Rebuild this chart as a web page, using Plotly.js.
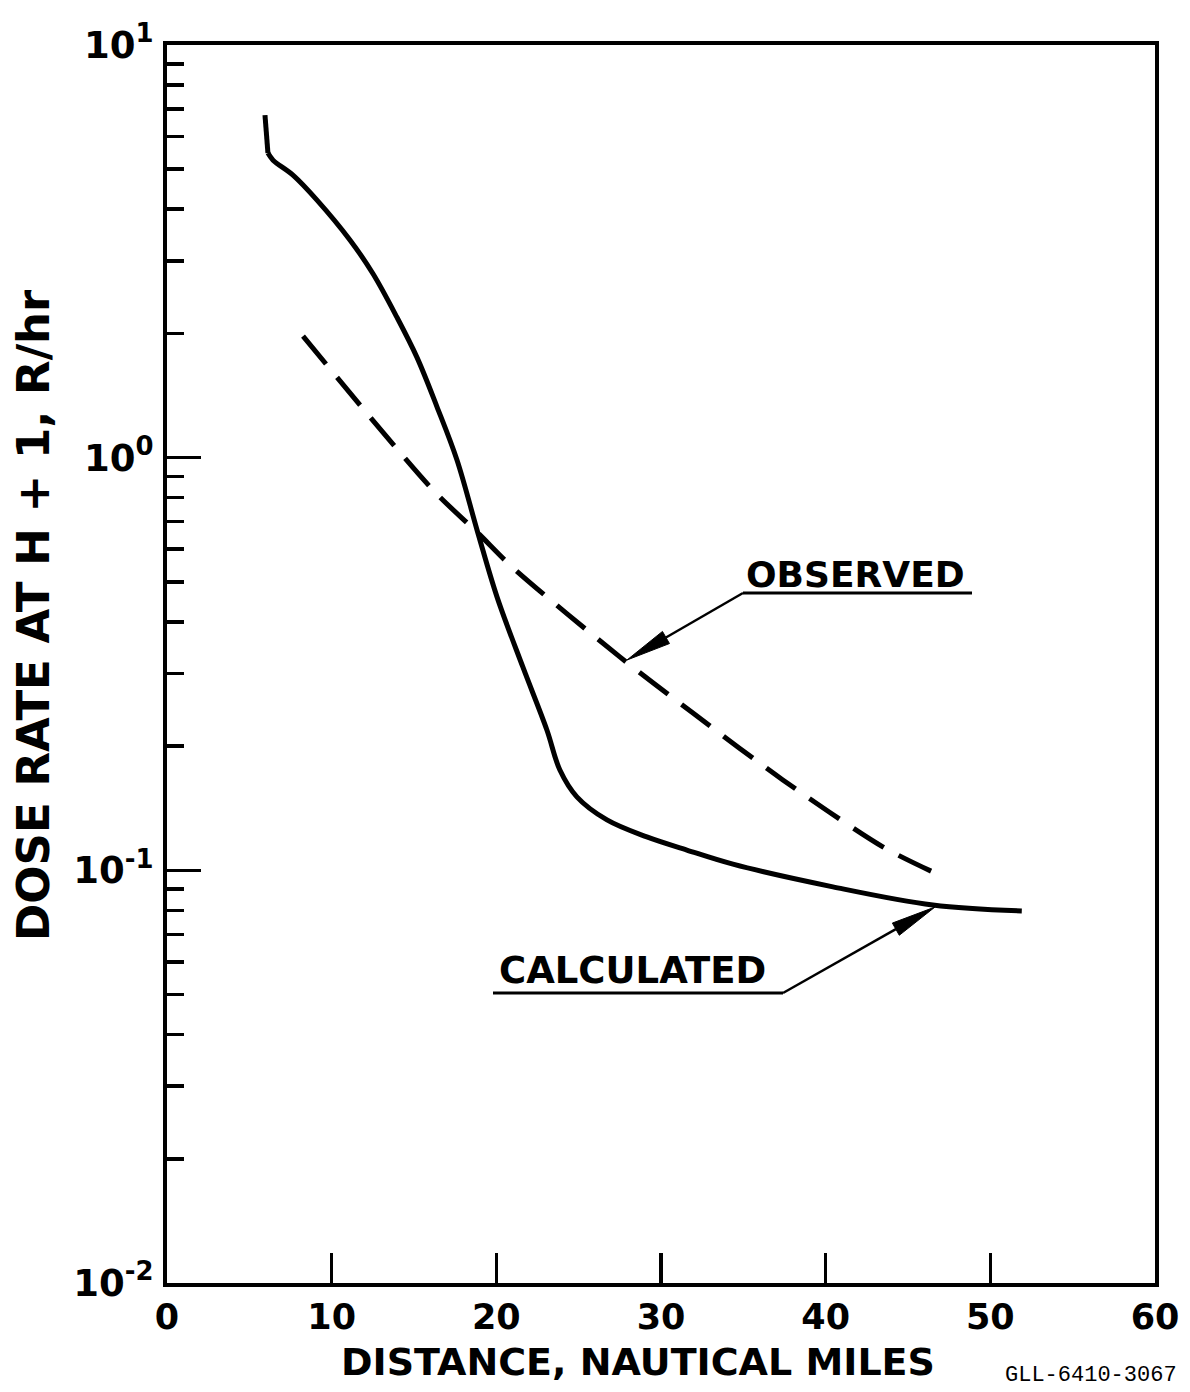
<!DOCTYPE html>
<html>
<head>
<meta charset="utf-8">
<script src="https://cdn.plot.ly/plotly-3.0.1.min.js"></script>
<style>html,body{margin:0;padding:0;background:#fff;}#chart{width:1190px;height:1392px;}</style>
</head>
<body>
<div id="chart"></div>
<script>
// Calculated curve (solid)
const calcX = [5.95, 6.13, 6.44, 7.65, 9.11, 11.11, 12.51, 13.96, 15.18, 16.39, 17.61, 18.88, 20.04, 21.61, 23.07, 23.86, 24.89, 26.72, 29.14, 31.57, 34.37, 40.44, 46.51, 51.91];
const calcY = [6.76, 5.47, 5.26, 4.84, 4.21, 3.37, 2.79, 2.19, 1.75, 1.33, 0.987, 0.657, 0.460, 0.311, 0.2188, 0.175, 0.1507, 0.1325, 0.1205, 0.1120, 0.1035, 0.0912, 0.0824, 0.0797];
// Observed curve (dashed)
const obsX = [8.26, 16.15, 18.88, 21.01, 27.50, 31.94, 37.40, 43.47, 46.63];
const obsY = [1.97, 0.835, 0.657, 0.541, 0.329, 0.2405, 0.1656, 0.114, 0.0986];

const xTickVals = [0, 10, 20, 30, 40, 50, 60];
const xTickText = ["0", "10", "20", "30", "40", "50", "60"];
const yTickVals = [0.01, 0.1, 1, 10];
const yTickText = ["10<sup>-2</sup>", "10<sup>-1</sup>", "10<sup>0</sup>", "10<sup>1</sup>"];
const yMinorVals = [0.02,0.03,0.04,0.05,0.06,0.07,0.08,0.09,0.2,0.3,0.4,0.5,0.6,0.7,0.8,0.9,2,3,4,5,6,7,8,9];

const xTitle = "DISTANCE, NAUTICAL MILES";
const yTitle = "DOSE RATE AT H + 1, R/hr";
const labelObserved = "OBSERVED";
const labelCalculated = "CALCULATED";
const figId = "GLL-6410-3067";

const FONT = "DejaVu Sans, Liberation Sans, sans-serif";

// plot-area geometry (pixels) used only to place callout lines/arrows in paper units
const L = 167, R = 1155, T = 45, B = 1283;
const px = v => (v - L) / (R - L);
const py = v => (B - v) / (B - T);

function arrowShapes(tip, tail, headLen, halfW) {
  const dx = tail[0] - tip[0], dy = tail[1] - tip[1];
  const len = Math.hypot(dx, dy), ux = dx / len, uy = dy / len;
  const bx = tip[0] + ux * headLen, by = tip[1] + uy * headLen;
  const nx = -uy * halfW, ny = ux * halfW;
  return [
    {type: "line", xref: "paper", yref: "paper", x0: px(bx), y0: py(by), x1: px(tail[0]), y1: py(tail[1]), line: {color: "#000", width: 2.5}},
    {type: "path", xref: "paper", yref: "paper",
     path: `M ${px(tip[0])} ${py(tip[1])} L ${px(bx + nx)} ${py(by + ny)} L ${px(bx - nx)} ${py(by - ny)} Z`,
     fillcolor: "#000", line: {color: "#000", width: 1}}
  ];
}

const traces = [
  {x: calcX.slice(0, 2), y: calcY.slice(0, 2), type: "scatter", mode: "lines", name: "Calculated",
   line: {color: "#000", width: 5}, hoverinfo: "skip"},
  {x: calcX.slice(1), y: calcY.slice(1), type: "scatter", mode: "lines", name: "Calculated",
   line: {color: "#000", width: 5, shape: "spline", smoothing: 1}},
  {x: obsX, y: obsY, type: "scatter", mode: "lines", name: "Observed",
   line: {color: "#000", width: 5, shape: "spline", smoothing: 0.8, dash: "36px,17px"}}
];

const shapes = [
  {type: "line", xref: "paper", yref: "paper", x0: px(743), x1: px(972), y0: py(593), y1: py(593), line: {color: "#000", width: 3}},
  {type: "line", xref: "paper", yref: "paper", x0: px(493), x1: px(783), y0: py(993), y1: py(993), line: {color: "#000", width: 3}}
].concat(arrowShapes([627, 660], [743, 593], 45, 7))
 .concat(arrowShapes([935, 907], [783, 993], 45, 7));

const layout = {
  width: 1190, height: 1392,
  margin: {l: L, r: 1190 - R, t: T, b: 1392 - B},
  paper_bgcolor: "#fff", plot_bgcolor: "#fff",
  showlegend: false,
  font: {family: FONT, color: "#000"},
  xaxis: {
    range: [0, 60], tickmode: "array", tickvals: xTickVals, ticktext: xTickText,
    ticks: "inside", ticklen: 30, tickwidth: 3.5, tickcolor: "#000",
    showline: true, linewidth: 4, linecolor: "#000", mirror: true,
    showgrid: false, zeroline: false,
    tickfont: {family: FONT, size: 35, weight: "bold"},
    ticklabelstandoff: 0
  },
  yaxis: {
    type: "log", range: [-2, 1], tickmode: "array", tickvals: yTickVals, ticktext: yTickText,
    ticks: "inside", ticklen: 34, tickwidth: 3.5, tickcolor: "#000",
    showline: true, linewidth: 4, linecolor: "#000", mirror: true,
    showgrid: false, zeroline: false,
    tickfont: {family: FONT, size: 37, weight: "bold"},
    ticklabelstandoff: 2,
    minor: {tickmode: "array", tickvals: yMinorVals, ticks: "inside", ticklen: 17, tickwidth: 3.5, tickcolor: "#000", showgrid: false}
  },
  shapes: shapes,
  annotations: [
    {text: xTitle, xref: "paper", yref: "paper", x: px(638), y: py(1362), showarrow: false,
     xanchor: "center", yanchor: "middle", font: {family: FONT, size: 38, weight: "bold"}},
    {text: yTitle, xref: "paper", yref: "paper", x: px(33), y: py(615), showarrow: false, textangle: -90,
     xanchor: "center", yanchor: "middle", font: {family: FONT, size: 45, weight: "bold"}},
    {text: labelObserved, xref: "paper", yref: "paper", x: px(855), y: py(574), showarrow: false,
     xanchor: "center", yanchor: "middle", font: {family: FONT, size: 36, weight: "bold"}},
    {text: labelCalculated, xref: "paper", yref: "paper", x: px(632), y: py(970), showarrow: false,
     xanchor: "center", yanchor: "middle", font: {family: FONT, size: 37, weight: "bold"}},
    {text: figId, xref: "paper", yref: "paper", x: px(1091), y: py(1375), showarrow: false,
     xanchor: "center", yanchor: "middle", font: {family: "Liberation Mono, Courier New, monospace", size: 22}}
  ]
};

Plotly.newPlot("chart", traces, layout, {staticPlot: true});
</script>
</body>
</html>
